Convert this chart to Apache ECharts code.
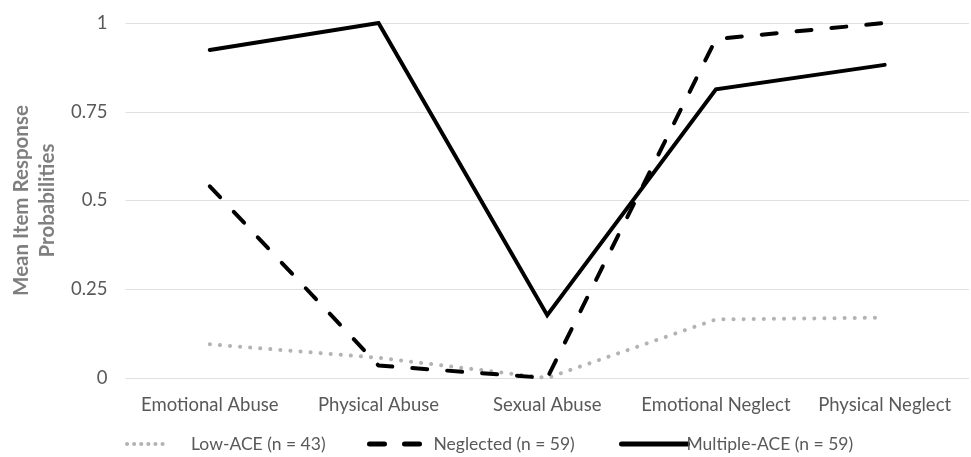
<!DOCTYPE html>
<html><head><meta charset="utf-8">
<script src="https://cdn.jsdelivr.net/npm/echarts@6/dist/echarts.min.js"></script>
<style>html,body{margin:0;padding:0;background:#fff}#c{width:971px;height:457px}</style>
</head><body><div id="c"></div>
<script>
const categories = ['Emotional Abuse','Physical Abuse','Sexual Abuse','Emotional Neglect','Physical Neglect'];
const lowACE = [0.095, 0.057, 0.0, 0.165, 0.17];
const neglected = [0.54, 0.035, 0.0, 0.955, 1.0];
const multipleACE = [0.924, 1.0, 0.177, 0.813, 0.882];
const yTicks = [0, 0.25, 0.5, 0.75, 1];
const seriesNames = ['Low-ACE (n = 43)','Neglected (n = 59)','Multiple-ACE (n = 59)'];
const font = 'Lato';
const legendText = {color:'#595959',fontSize:17.5,fontFamily:font};
const chart = echarts.init(document.getElementById('c'));
function leg(name,left,w,pad,ls){
  return {top:430,left:left,itemWidth:w,itemHeight:12,data:[name],
    itemStyle:{opacity:0},lineStyle:ls,
    textStyle:Object.assign({padding:[0,0,0,pad]},legendText)};
}
chart.setOption({
  animation:false,
  textStyle:{fontFamily:font},
  grid:{left:122,right:2,top:23,bottom:79},
  legend:[
    leg(seriesNames[0],120,42,17,{width:4,type:[0.1,7],cap:'round',color:'#b3b3b3'}),
    leg(seriesNames[1],362,62,-3,{width:5,type:[15,20],cap:'round',color:'#000'}),
    leg(seriesNames[2],614,66,-6,{width:5,cap:'round',color:'#000'})],
  xAxis:{type:'category',data:categories,boundaryGap:true,
    axisLine:{show:false},axisTick:{show:false},
    axisLabel:{color:'#595959',fontSize:18.5,margin:18,fontFamily:font,interval:0}},
  yAxis:{type:'value',min:0,max:1,interval:0.25,
    name:'Mean Item Response\nProbabilities',nameLocation:'middle',nameGap:63,
    nameTextStyle:{color:'#7f7f7f',fontSize:20.5,fontWeight:'bold',lineHeight:26,fontFamily:font},
    axisLabel:{color:'#595959',fontSize:18.5,margin:18,fontFamily:font,
      formatter:v=>yTicks.includes(v)?String(v):''},
    splitLine:{lineStyle:{color:'#e0e0e0',width:1.2}}},
  series:[
    {name:seriesNames[0],type:'line',data:lowACE,symbol:'none',
      itemStyle:{color:'#b3b3b3'},
      lineStyle:{color:'#b3b3b3',width:4,type:[0.1,10],cap:'round'}},
    {name:seriesNames[1],type:'line',data:neglected,symbol:'none',
      itemStyle:{color:'#000'},
      lineStyle:{color:'#000',width:4,type:[15,20],cap:'round'}},
    {name:seriesNames[2],type:'line',data:multipleACE,symbol:'none',
      itemStyle:{color:'#000'},
      lineStyle:{color:'#000',width:4,cap:'round',join:'miter'}}
  ]
});
</script></body></html>
